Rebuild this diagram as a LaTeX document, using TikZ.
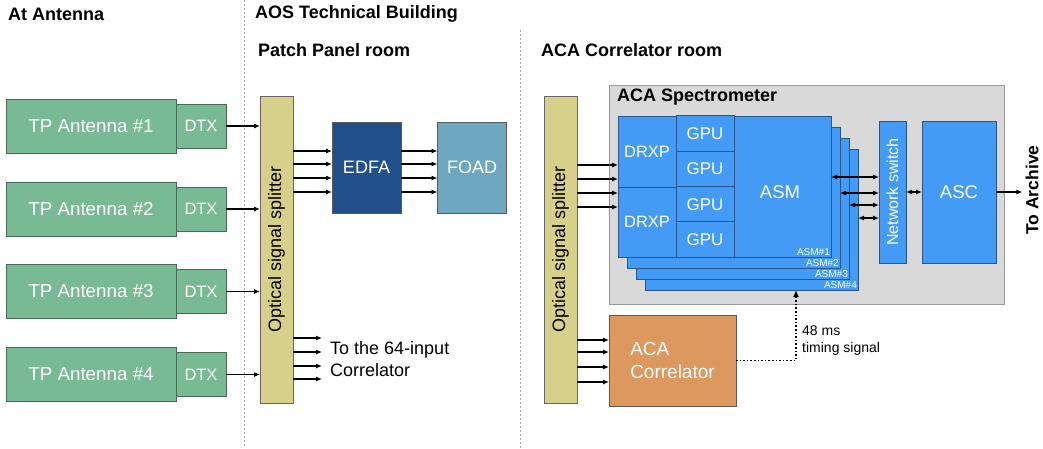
\documentclass[tikz,border=0pt]{standalone}
\usepackage{fontspec}
\setmainfont{Liberation Sans}
\usetikzlibrary{arrows.meta,positioning}

\definecolor{antgreen}{RGB}{120,186,148}
\definecolor{antedge}{RGB}{70,105,85}
\definecolor{splitkhaki}{RGB}{214,208,138}
\definecolor{edfablue}{RGB}{34,80,140}
\definecolor{foadblue}{RGB}{110,168,192}
\definecolor{cardblue}{RGB}{68,155,245}
\definecolor{cardedge}{RGB}{40,85,140}
\definecolor{specgray}{RGB}{217,217,217}
\definecolor{corrorange}{RGB}{221,152,94}

\begin{document}
\begin{tikzpicture}[
                x=1pt, y=-1pt,
                box/.style={
                    draw=antedge,
                    rectangle,
                    outer sep=0pt,
                    align=center,
                    text=white,
                    line width=0.8pt,
                    font=\fontsize{18}{21}\selectfont
                },
                antbox/.style={
                    box,
                    fill=antgreen,
                    minimum width=170pt,
                    minimum height=54pt,
                    font=\fontsize{18.8}{22}\selectfont
                },
                dtxbox/.style={
                    box,
                    fill=antgreen,
                    minimum width=50pt,
                    minimum height=44pt,
                    font=\fontsize{16.5}{20}\selectfont
                },
                splitbox/.style={
                    box,
                    fill=splitkhaki,
                    draw=gray!80!black,
                    text=black,
                    rotate=90,
                    minimum width=307pt,
                    minimum height=33pt
                },
                procbox/.style={
                    box,
                    draw=gray!70!black,
                    minimum width=69pt,
                    minimum height=91pt
                },
                card/.style={
                    box,
                    fill=cardblue,
                    draw=cardedge,
                    minimum width=213pt,
                    minimum height=141pt
                },
                cell/.style={
                    box,
                    fill=cardblue,
                    draw=cardedge,
                    minimum width=58pt,
                    font=\fontsize{17}{20}\selectfont
                },
                asmlabel/.style={
                    text=white,
                    inner sep=1pt,
                    font=\fontsize{10}{10}\selectfont
                },
                header/.style={
                    anchor=west,
                    inner sep=0pt,
                    font=\bfseries\fontsize{18}{21}\selectfont
                },
                sig/.style={
                    -{Latex[length=6pt,width=5pt]},
                    line width=1.1pt
                },
                dsig/.style={
                    {Latex[length=6pt,width=5pt]}-{Latex[length=6pt,width=5pt]},
                    line width=1.1pt
                },
                timing/.style={
                    -{Latex[length=7pt,width=6pt]},
                    line width=1.6pt,
                    dash pattern=on 1.6pt off 2pt
                },
                roomline/.style={
                    gray!70,
                    line width=1pt,
                    dash pattern=on 1.5pt off 2.5pt
                }
            ]

    \useasboundingbox (0,0) rectangle (1043,448);

    % room borders and titles
    \draw[roomline] (244,0) -- (244,448);
    \draw[roomline] (520,30) -- (520,448);
    \node[header] (hant) at (8,14) {At Antenna};
    \node[header] (haos) at (255,14) {AOS Technical Building};
    \node[header] (hpatch) at (258,50) {Patch Panel room};
    \node[header] (hcorr) at (541,50) {ACA Correlator room};

    % antennas
    \foreach \i/\y in {1/126,2/209,3/291.5,4/374.5} {
        \node[antbox] (ant\i) at (91,\y) {TP Antenna \#\i};
        \node[dtxbox, right=0pt of ant\i] (dtx\i) {DTX};
    }

    % patch panel room
    \node[splitbox] (splitA) at (276.5,249.5) {Optical signal splitter};
    \node[procbox, fill=edfablue] (edfa) at (366.5,167.5) {EDFA};
    \node[procbox, fill=foadblue] (foad) at (472,167.5) {FOAD};
    \node[anchor=west, align=left, inner sep=0pt,
          font=\fontsize{18}{22}\selectfont] (to64) at (330,359) {To the 64-input\\Correlator};

    \foreach \i in {1,...,4}
        \draw[sig] (dtx\i) -- (dtx\i -| splitA.north);
    \foreach \y in {151,164,178,192} {
        \draw[sig] (splitA.south |- 0,\y) -- (edfa.west |- 0,\y);
        \draw[sig] (edfa.east |- 0,\y) -- (foad.west |- 0,\y);
    }
    \foreach \y in {338,352,366,379}
        \draw[sig] (splitA.south |- 0,\y) -- ([xshift=-8pt]to64.west |- 0,\y);

    % ACA correlator room
    \node[splitbox] (splitB) at (560.5,249.5) {Optical signal splitter};
    \node[box, fill=specgray, draw=gray!80, minimum width=395pt, minimum height=219pt] (spec) at (806.5,194.5) {};
    \node[header, font=\bfseries\fontsize{18}{21}\selectfont] (hspec) at (617,97) {ACA Spectrometer};

    \foreach \k/\dx/\dy in {4/27/33,3/18/22,2/9/11,1/0/0} {
        \node[card] (asm\k) at (724.5+\dx,186.5+\dy) {};
        \node[asmlabel, anchor=south east] at (asm\k.south east) {ASM\#\k};
    }
    \node[cell, minimum height=71pt, font=\fontsize{16.5}{20}\selectfont] (drxp1) at (647,151.5) {DRXP};
    \node[cell, minimum height=70pt, font=\fontsize{16.5}{20}\selectfont] (drxp2) at (647,222) {DRXP};
    \foreach \j/\y in {1/133.5,2/169,3/204.5,4/239.5}
        \node[cell, minimum height=35.3pt] (gpu\j) at (705,\y) {GPU};
    \node[text=white, font=\fontsize{18.5}{22}\selectfont] (asmtext) at (780,192) {ASM};

    \node[box, fill=cardblue, draw=cardedge, rotate=90, minimum width=142pt, minimum height=27pt,
          font=\fontsize{16}{19}\selectfont] (nsw) at (892.5,192) {Network switch};
    \node[box, fill=cardblue, draw=cardedge, minimum width=74pt, minimum height=142pt,
          font=\fontsize{18.5}{22}\selectfont] (asc) at (959,192) {ASC};
    \node[rotate=90, inner sep=3pt, font=\bfseries\fontsize{17.5}{21}\selectfont] (arch) at (1032,190) {To Archive};

    \node[box, fill=corrorange, draw=gray!70!black, minimum width=127pt, minimum height=91pt,
          align=left, font=\fontsize{19}{23}\selectfont] (corr) at (672.5,360.5) {ACA\\Correlator};

    \foreach \y in {165,179,193,207}
        \draw[sig] (splitB.south |- 0,\y) -- (asm1.west |- 0,\y);
    \foreach \y in {340,352,367,382}
        \draw[sig] (splitB.south |- 0,\y) -- (corr.west |- 0,\y);
    \foreach \k/\y in {1/177,2/193,3/205,4/218}
        \draw[dsig] (asm\k.east |- 0,\y) -- (nsw.north |- 0,\y);
    \draw[dsig] (nsw) -- (asc);
    \draw[sig] (asc) -- (asc -| arch.north);

    % timing signal
    \coordinate (tsig) at (796,360.5);
    \draw[timing] (corr.east) -- (tsig) -- (tsig |- asm4.south);
    \node[anchor=west, align=left, inner sep=0pt,
          font=\fontsize{14}{17}\selectfont] (tlabel) at (802,341) {48 ms\\timing signal};
\end{tikzpicture}
\end{document}
